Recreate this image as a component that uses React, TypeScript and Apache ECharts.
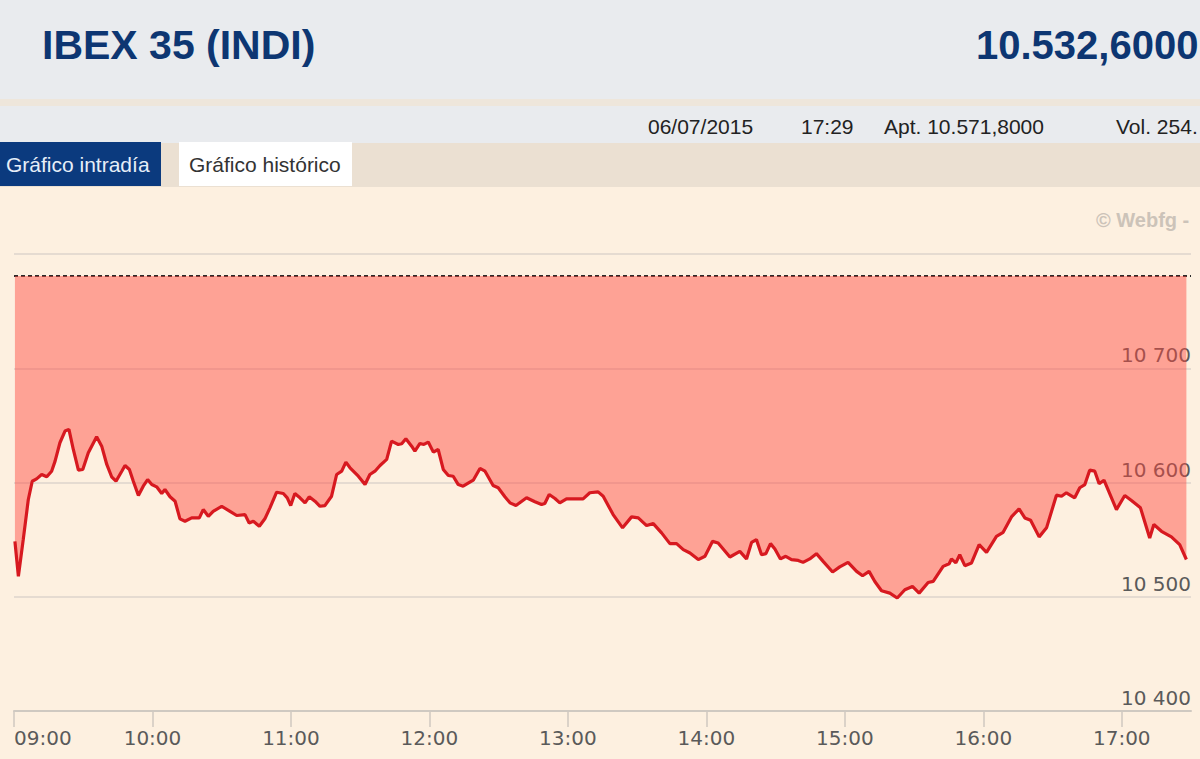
import React, { useEffect, useRef } from "react";
import * as echarts from "echarts";

// Previous close (dashed reference line)
const PREV_CLOSE = 10780.8;

// Minutes after 09:00
const MINUTES = [
  0.4, 1.9, 4.0, 6.2, 7.9, 9.8, 12.0, 14.2, 16.3, 17.8, 19.9, 22.1, 23.8, 25.7, 27.9, 29.8,
  32.2, 35.8, 38.0, 40.2, 42.3, 44.2, 46.7, 48.1, 50.0, 51.7, 53.9, 56.0, 57.9, 59.7, 61.8,
  64.0, 65.4, 67.6, 69.8, 71.9, 74.1, 77.0, 80.3, 82.0, 84.2, 86.3, 90.0, 93.6, 96.5, 100.1,
  101.9, 103.7, 106.3, 108.7, 110.9, 113.8, 116.7, 118.4, 119.9, 121.7, 123.9, 126.1, 127.9,
  130.4, 132.6, 134.7, 137.6, 139.8, 142.0, 143.8, 145.6, 149.2, 152.1, 154.2, 156.4, 158.6,
  161.5, 163.6, 166.5, 168.0, 169.8, 172.3, 173.7, 175.9, 177.6, 179.5, 181.7, 183.8, 186.0,
  188.2, 190.3, 192.5, 194.6, 199.0, 201.9, 204.1, 207.6, 209.8, 212.7, 214.9, 217.5, 222.1,
  225.7, 228.6, 230.0, 231.9, 234.4, 236.5, 239.4, 243.8, 246.6, 249.5, 253.1, 255.3, 259.6,
  263.7, 267.6, 270.5, 274.1, 277.0, 280.6, 284.2, 287.1, 290.0, 292.9, 296.5, 299.4, 302.7,
  305.1, 310.2, 314.5, 317.4, 319.6, 321.7, 323.9, 325.8, 327.8, 329.7, 332.1, 334.4, 336.9,
  339.8, 341.9, 344.8, 347.7, 350.6, 354.7, 357.8, 361.4, 365.1, 367.7, 370.5, 373.0, 375.9,
  379.5, 382.7, 386.0, 389.3, 392.2, 396.1, 398.3, 402.6, 405.2, 406.2, 408.1, 409.8, 412.0,
  414.9, 418.2, 421.4, 425.7, 428.6, 432.2, 435.5, 438.0, 440.5, 444.2, 447.4, 451.7, 453.9,
  456.0, 459.6, 461.8, 464.0, 466.1, 468.3, 470.2, 472.3, 477.7, 481.3, 484.2, 488.1, 492.1,
  493.9, 497.2, 501.5, 505.1, 508.0,
];

// IBEX 35 level at each minute above
const PRICES = [
  10548.5, 10517.8, 10550.0, 10585.1, 10601.1, 10603.2, 10607.0, 10605.0, 10609.9, 10618.7,
  10634.8, 10645.0, 10646.5, 10628.9, 10610.8, 10611.4, 10626.1, 10640.1, 10631.8, 10615.8,
  10605.0, 10601.1, 10609.9, 10614.9, 10611.4, 10601.1, 10588.6, 10596.8, 10602.6, 10598.2,
  10596.2, 10590.4, 10593.9, 10587.5, 10583.6, 10568.2, 10566.1, 10569.0, 10569.0, 10576.3,
  10570.4, 10574.8, 10579.2, 10574.8, 10571.1, 10571.9, 10564.6, 10566.1, 10561.7, 10568.2,
  10577.8, 10591.5, 10590.4, 10586.6, 10579.8, 10590.4, 10586.6, 10582.2, 10587.5, 10583.6,
  10579.2, 10579.8, 10588.0, 10607.0, 10609.9, 10617.8, 10612.9, 10605.5, 10598.2, 10607.0,
  10609.9, 10614.9, 10620.2, 10636.2, 10633.3, 10633.9, 10638.3, 10631.8, 10627.5, 10634.2,
  10633.3, 10635.4, 10626.6, 10628.9, 10611.4, 10606.1, 10605.5, 10598.2, 10596.8, 10602.0,
  10612.3, 10609.9, 10597.4, 10595.4, 10587.5, 10582.2, 10579.8, 10586.6, 10583.1, 10580.7,
  10581.6, 10589.5, 10586.0, 10582.2, 10585.7, 10585.7, 10585.7, 10591.0, 10591.8, 10588.0,
  10571.9, 10560.3, 10569.9, 10569.0, 10562.3, 10564.0, 10555.9, 10546.5, 10546.5, 10541.2,
  10538.3, 10532.5, 10535.4, 10548.5, 10547.1, 10534.8, 10539.7, 10533.1, 10547.6, 10550.0,
  10536.8, 10537.7, 10546.5, 10541.8, 10533.1, 10535.4, 10532.5, 10531.8, 10530.1, 10533.1,
  10537.7, 10531.0, 10521.7, 10526.1, 10530.1, 10522.2, 10518.4, 10522.2, 10513.4, 10505.3,
  10503.2, 10498.9, 10506.1, 10509.0, 10503.2, 10512.5, 10513.4, 10526.6, 10528.9, 10533.1,
  10529.6, 10536.8, 10527.2, 10529.6, 10545.6, 10538.9, 10552.9, 10556.4, 10569.9, 10576.9,
  10569.0, 10566.9, 10552.4, 10560.3, 10588.9, 10588.0, 10591.0, 10586.6, 10595.4, 10598.2,
  10610.8, 10609.9, 10598.9, 10602.0, 10576.3, 10588.6, 10584.2, 10577.8, 10551.5, 10563.2,
  10557.3, 10552.4, 10545.6, 10532.6,
];

// Hour ticks (minutes after 09:00) and their labels
const HOUR_TICKS = [0, 60, 120, 180, 240, 300, 360, 420, 480];
const HOUR_LABELS = ["09:00", "10:00", "11:00", "12:00", "13:00", "14:00", "15:00", "16:00", "17:00"];

const Y_MIN = 10400;
const Y_MAX = 10800;
const Y_STEP = 100;
const X_MAX = 510;

const TITLE = "IBEX 35 (INDI)";
const LAST = "10.532,6000";
const INFO = [
  { text: "06/07/2015", x: 648 },
  { text: "17:29", x: 801 },
  { text: "Apt. 10.571,8000", x: 884 },
  { text: "Vol. 254.", x: 1116 },
];

const FONT = "'Liberation Sans', Arial, sans-serif";
const AXIS_FONT = "'DejaVu Sans', Verdana, sans-serif";

export default function App() {
  const ref = useRef<HTMLDivElement>(null);

  useEffect(() => {
    if (!ref.current) return;
    const chart = echarts.init(ref.current, undefined, { renderer: "svg" });

    const linePts = MINUTES.map((m, i) => [m, PRICES[i]]);

    const fmtY = (v: number) => {
      const s = String(Math.round(v));
      return s.slice(0, s.length - 3) + " " + s.slice(s.length - 3);
    };

    chart.setOption({
      animation: false,
      backgroundColor: "#FDF0E0",
      grid: { left: 14, right: 9, top: 254, bottom: 48, containLabel: false },
      xAxis: {
        type: "value",
        min: 0,
        max: X_MAX,
        interval: 60,
        axisLine: { show: true, lineStyle: { color: "#CFC9C1", width: 2 } },
        axisTick: {
          show: true,
          length: 16,
          lineStyle: { color: "#CFC9C1", width: 1.5 },
          customValues: HOUR_TICKS,
        },
        splitLine: { show: false },
        axisLabel: {
          customValues: HOUR_TICKS,
          formatter: (v: number) => HOUR_LABELS[HOUR_TICKS.indexOf(Math.round(v))] ?? "",
          color: "#5A5A5A",
          fontSize: 20,
          fontFamily: AXIS_FONT,
          margin: 17,
          alignMinLabel: "left",
        },
      },
      yAxis: {
        type: "value",
        position: "right",
        min: Y_MIN,
        max: Y_MAX,
        interval: Y_STEP,
        axisLine: { show: false },
        axisTick: { show: false },
        splitLine: { show: true, lineStyle: { color: "#DCD5CC", width: 1.5 } },
        axisLabel: {
          inside: true,
          margin: 0,
          showMaxLabel: false,
          verticalAlign: "bottom",
          padding: [0, 0, 3, 0],
          formatter: fmtY,
          color: "#5A5A5A",
          fontSize: 20,
          fontFamily: AXIS_FONT,
        },
      },
      series: [
        {
          type: "line",
          data: linePts,
          symbol: "none",
          lineStyle: { color: "#D71920", width: 3.2 },
          areaStyle: { color: "rgba(255,70,60,0.46)", opacity: 1, origin: PREV_CLOSE },
          z: 5,
          markLine: {
            silent: true,
            symbol: "none",
            label: { show: false },
            lineStyle: { color: "#2A2A2A", width: 1.8, type: [4, 3] },
            data: [{ yAxis: PREV_CLOSE }],
          },
        },
      ],
      graphic: [
        { type: "rect", shape: { x: 0, y: 0, width: 1200, height: 99 }, style: { fill: "#E9EBEE" } },
        { type: "rect", shape: { x: 0, y: 99, width: 1200, height: 7 }, style: { fill: "#EEE6DB" } },
        { type: "rect", shape: { x: 0, y: 106, width: 1200, height: 37 }, style: { fill: "#E9EBEE" } },
        { type: "rect", shape: { x: 0, y: 143, width: 1200, height: 44 }, style: { fill: "#EBE0D2" } },
        { type: "rect", shape: { x: 0, y: 142, width: 161, height: 44 }, style: { fill: "#0B3A7E" } },
        { type: "rect", shape: { x: 179, y: 142, width: 173, height: 44 }, style: { fill: "#FFFFFF" } },
        {
          type: "text",
          x: 42,
          y: 45,
          style: {
            text: TITLE,
            fill: "#0D3672",
            font: `bold 41px ${FONT}`,
            verticalAlign: "middle",
          },
        },
        {
          type: "text",
          x: 976,
          y: 45,
          style: {
            text: LAST,
            fill: "#0D3672",
            font: `bold 40px ${FONT}`,
            verticalAlign: "middle",
          },
        },
        ...INFO.map((it) => ({
          type: "text",
          x: it.x,
          y: 126,
          style: { text: it.text, fill: "#222", font: `21px ${FONT}`, verticalAlign: "middle" },
        })),
        {
          type: "text",
          x: 6,
          y: 164,
          style: { text: "Gráfico intradía", fill: "#E6EEF8", font: `21px ${FONT}`, verticalAlign: "middle" },
        },
        {
          type: "text",
          x: 189,
          y: 164,
          style: { text: "Gráfico histórico", fill: "#333", font: `21px ${FONT}`, verticalAlign: "middle" },
        },
        {
          type: "text",
          x: 1096,
          y: 220,
          style: { text: "© Webfg -", fill: "#CCC3B9", font: `bold 20px ${FONT}`, verticalAlign: "middle" },
        },
      ],
    });

    return () => chart.dispose();
  }, []);

  return (
    <div
      ref={ref}
      style={{ position: "fixed", left: 0, top: 0, width: 1200, height: 759 }}
    />
  );
}
